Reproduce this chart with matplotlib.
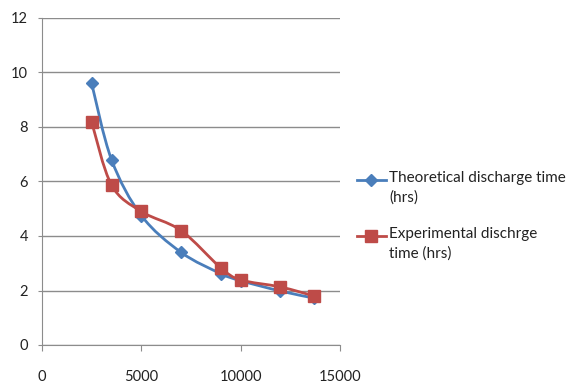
import matplotlib
matplotlib.use("Agg")
import matplotlib.pyplot as plt
from matplotlib.path import Path
from matplotlib.patches import PathPatch
from matplotlib.lines import Line2D
import numpy as np

x_vals = [2500, 3500, 5000, 7000, 9000, 10000, 12000, 13700]
theoretical = [9.6, 6.8, 4.75, 3.4, 2.62, 2.36, 1.98, 1.72]
experimental = [8.18, 5.87, 4.9, 4.2, 2.83, 2.39, 2.13, 1.8]
series_labels = ["Theoretical discharge time\n(hrs)", "Experimental dischrge\ntime (hrs)"]
x_ticks = [0, 5000, 10000, 15000]
y_ticks = [0, 2, 4, 6, 8, 10, 12]

BLUE = "#4A7EBB"
RED = "#BE4B48"
GRID = "#8C8C8C"

plt.rcParams['font.family'] = ['Lato', 'DejaVu Sans']

W, H = 575, 383
fig = plt.figure(figsize=(W / 100, H / 100), dpi=100)
ax = fig.add_axes([42/W, 1-345/H, (340-42)/W, (345-18)/H])


def smooth_path(xs, ys):
    pts = np.column_stack([xs, ys]).astype(float)
    n = len(pts)
    verts = [pts[0]]
    codes = [Path.MOVETO]
    for i in range(n - 1):
        p0 = pts[i - 1] if i > 0 else pts[i]
        p1 = pts[i]
        p2 = pts[i + 1]
        p3 = pts[i + 2] if i + 2 < n else pts[i + 1]
        c1 = p1 + (p2 - p0) / 6.0
        c2 = p2 - (p3 - p1) / 6.0
        verts += [c1, c2, p2]
        codes += [Path.CURVE4] * 3
    return Path(verts, codes)


styles = [(theoretical, BLUE, 'D', 6), (experimental, RED, 's', 9)]
for ys, col, mk, ms in styles:
    patch = PathPatch(smooth_path(x_vals, ys), facecolor='none', edgecolor=col,
                      lw=2.0, transform=ax.transData, zorder=3)
    ax.add_patch(patch)
    ax.plot(x_vals, ys, linestyle='none', marker=mk, ms=ms, color=col, zorder=4)

ax.set_xlim(0, 15000)
ax.set_ylim(0, 12)
ax.set_xticks(x_ticks)
ax.set_yticks(y_ticks)
ax.yaxis.grid(True, color=GRID, lw=1.0)
ax.set_axisbelow(True)
for s in ['top', 'right']:
    ax.spines[s].set_visible(False)
for s in ['left', 'bottom']:
    ax.spines[s].set_color(GRID)
ax.tick_params(axis='x', length=4, color=GRID, pad=14, labelsize=10.5, labelcolor='#222222')
ax.tick_params(axis='y', length=3, color=GRID, pad=7, labelsize=10.5, labelcolor='#222222')

# legend drawn manually: handle aligned with the first text line
legend_rows = [180, 236]
for (ys, col, mk, ms), label, yrow in zip(styles, series_labels, legend_rows):
    yf = 1 - yrow / H
    fig.add_artist(Line2D([357/W, 386/W], [yf, yf], color=col, lw=2,
                          transform=fig.transFigure))
    fig.add_artist(Line2D([371/W], [yf], color=col, marker=mk, ms=ms,
                          linestyle='none', transform=fig.transFigure))
    fig.text(389/W, 1 - (yrow - 9) / H, label, ha='left', va='top',
             fontsize=11, linespacing=1.45, color='#222222')

fig.savefig("out.png", dpi=100)
